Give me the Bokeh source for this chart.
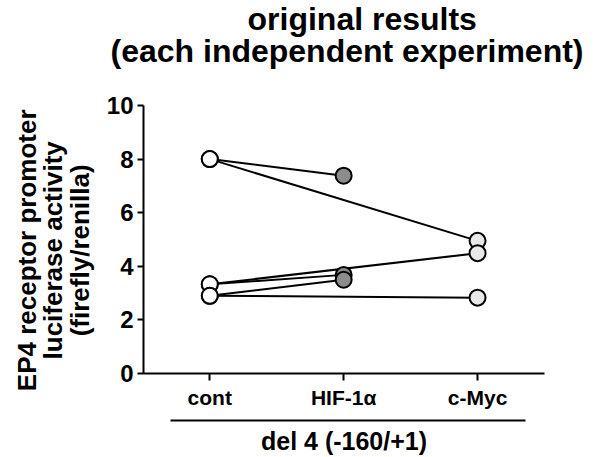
from bokeh.plotting import figure
from bokeh.models import Range1d, FixedTicker, LinearAxis, Title
from bokeh.embed import file_html
from bokeh.resources import INLINE

# ---- data ----
categories = ["cont", "HIF-1α", "c-Myc"]
cat_positions = [1, 2, 3]
# each independent experiment: treatment, control value, treated value
exp_treatment = ["HIF-1α", "c-Myc", "c-Myc", "HIF-1α", "HIF-1α", "c-Myc"]
exp_control = [8.00, 8.00, 3.33, 3.33, 2.90, 2.90]
exp_treated = [7.38, 4.95, 4.49, 3.68, 3.50, 2.83]
y_ticks = [0, 2, 4, 6, 8, 10]
title_lines = ["original results", "(each independent experiment)"]
y_label_lines = ["EP4 receptor promoter", "luciferase activity", "(firefly/renilla)"]
group_label = "del 4 (-160/+1)"
cat_fill = {"cont": "#ffffff", "HIF-1α": "#8c8c8c", "c-Myc": "#e8e8e8"}

FONT = "Liberation Sans"
pos = dict(zip(categories, cat_positions))

p = figure(width=597, height=457, output_backend="svg", toolbar_location=None,
           x_range=Range1d(0.505, 3.5), y_range=Range1d(0, 10),
           min_border_left=143, min_border_right=53, min_border_top=105,
           min_border_bottom=83, x_axis_location=None, y_axis_location=None)
p.outline_line_color = None
p.xgrid.visible = False
p.ygrid.visible = False
p.background_fill_color = "white"
p.border_fill_color = "white"

# y axis
yax = LinearAxis(ticker=FixedTicker(ticks=y_ticks))
yax.axis_line_width = 2
yax.major_tick_line_width = 2
yax.major_tick_out = 6
yax.major_tick_in = 0
yax.minor_tick_out = 0
yax.minor_tick_in = 0
yax.major_label_text_font = FONT
yax.major_label_text_font_style = "bold"
yax.major_label_text_font_size = "24px"
yax.major_label_text_color = "black"
yax.major_label_standoff = 4
# trailing no-break spaces nudge the centred label slightly downwards
yax.axis_label = "\n".join(line + "\u00a0\u00a0\u00a0" for line in y_label_lines)
yax.axis_label_text_font = FONT
yax.axis_label_text_font_style = "bold"
yax.axis_label_text_font_size = "26px"
yax.axis_label_text_color = "black"
yax.axis_label_text_line_height = 0.88
yax.axis_label_standoff = 9
p.add_layout(yax, "left")

# x axis
xax = LinearAxis(ticker=FixedTicker(ticks=cat_positions))
xax.major_label_overrides = {c: l for c, l in zip(cat_positions, categories)}
xax.axis_line_width = 2
xax.major_tick_line_width = 2
xax.major_tick_out = 7
xax.major_tick_in = 0
xax.minor_tick_out = 0
xax.minor_tick_in = 0
xax.major_label_text_font = FONT
xax.major_label_text_font_style = "bold"
xax.major_label_text_font_size = "21px"
xax.major_label_text_color = "black"
xax.major_label_standoff = 5
xax.axis_label = " "
xax.axis_label_text_font_size = "4px"
xax.axis_label_standoff = 1
p.add_layout(xax, "below")

# group bracket line under the categories, with the group name
bax = LinearAxis(ticker=FixedTicker(ticks=[]), bounds=(0.707, 3.356))
bax.axis_line_width = 2
bax.major_tick_out = 0
bax.major_tick_in = 0
bax.minor_tick_out = 0
bax.minor_tick_in = 0
bax.major_label_text_font_size = "0px"
bax.major_label_standoff = 0
bax.axis_label = group_label
bax.axis_label_text_font = FONT
bax.axis_label_text_font_style = "bold"
bax.axis_label_text_font_size = "25px"
bax.axis_label_text_color = "black"
bax.axis_label_standoff = 6
p.add_layout(bax, "below")

# lines for each experiment
x1 = [pos[t] for t in exp_treatment]
x0 = [pos["cont"]] * len(exp_control)
p.segment(x0=x0, y0=exp_control, x1=x1, y1=exp_treated, line_color="black", line_width=2)

# points
p.scatter(x=x0, y=exp_control, size=16, fill_color=cat_fill["cont"],
          line_color="black", line_width=2)
p.scatter(x=x1, y=exp_treated, size=16, fill_color=[cat_fill[t] for t in exp_treatment],
          line_color="black", line_width=2)

# two-line title (later added goes further from the plot); first a blank spacer
p.add_layout(Title(text=" ", text_font_size="10px", standoff=24), "above")
p.add_layout(Title(text=title_lines[1], align="left", offset=-33, standoff=0,
                   text_font=FONT, text_font_style="bold", text_font_size="32px",
                   text_color="black"), "above")
p.add_layout(Title(text=title_lines[0], align="left", offset=104, standoff=-12,
                   text_font=FONT, text_font_style="bold", text_font_size="32px",
                   text_color="black"), "above")

open("out.html", "w").write(file_html(p, INLINE))
